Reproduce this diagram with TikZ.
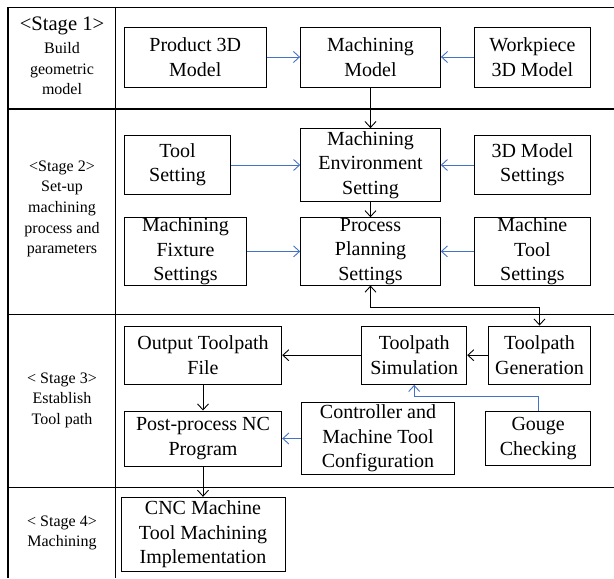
\documentclass[tikz,border=0pt]{standalone}
\usepackage{fontspec}
\setmainfont{Liberation Serif}
\usepackage{xcolor}
\usepackage{tikz}
\usetikzlibrary{
  arrows.meta
}
\definecolor{linkblue}{RGB}{68,114,196}

\begin{document}
\begin{tikzpicture}[x=0.5pt, y=-0.5pt,
    >={Straight Barb[length=3pt,width=5.5pt]},
    box/.style={draw, line width=0.5pt, inner sep=0pt, align=center,
      font=\fontsize{10}{12.2}\selectfont},
    stagetext/.style={align=center, font=\fontsize{8}{10.3}\selectfont},
    blackline/.style={->, line width=0.45pt},
    blueline/.style={->, line width=0.45pt, linkblue},
    frame/.style={line width=0.75pt}]
      \useasboundingbox (0,0) rectangle (614,578);

      % Table frame
      \draw[frame] (8,7.3) -- (614,7.3);
      \draw[frame] (8,7.3) -- (8,578);
      \draw[frame] (115.7,7.3) -- (115.7,578);
      \foreach \rowy in {109.2,314.5,487.5}
        \draw[frame] (8,\rowy) -- (614,\rowy);

      % Stage labels
      \node[stagetext] (stageone) at (62,56) {{\fontsize{10.3}{12}\selectfont <Stage 1>}\\[1pt]Build\\geometric\\model};
      \node[stagetext] (stagetwo) at (62,209) {<Stage 2>\\Set-up\\machining\\process and\\parameters};
      \node[stagetext] (stagethree) at (62,400) {< Stage 3>\\Establish\\Tool path};
      \node[stagetext] (stagefour) at (62,533) {< Stage 4>\\Machining};

      % Stage 1
      \node[box, minimum width=70.75pt, minimum height=30pt] (prodmodel) at (195.25,57) {Product 3D\\Model};
      \node[box, minimum width=69.9pt, minimum height=30pt] (machmodel) at (370.5,57) {Machining\\Model};
      \node[box, minimum width=58.35pt, minimum height=30pt] (workmodel) at (532.35,57) {Workpiece\\3D Model};
      \draw[blueline] (prodmodel) -- (machmodel);
      \draw[blueline] (workmodel) -- (machmodel);

      % Stage 2
      \node[box, minimum width=53.2pt, minimum height=29.15pt] (toolset) at (177.5,165) {Tool\\Setting};
      \node[box, minimum width=69.8pt, minimum height=36.35pt] (envset) at (370.5,165) {Machining\\Environment\\Setting};
      \node[box, minimum width=58.35pt, minimum height=29.15pt] (modelset) at (532.35,165) {3D Model\\Settings};
      \node[box, minimum width=61.2pt, minimum height=33.65pt] (fixset) at (185.5,251.4) {Machining\\Fixture\\Settings};
      \node[box, minimum width=69.8pt, minimum height=33.65pt] (planset) at (370.5,251.4) {Process\\Planning\\Settings};
      \node[box, minimum width=58.35pt, minimum height=33.65pt] (mtoolset) at (532.35,251.4) {Machine\\Tool\\Settings};
      \draw[blackline] (machmodel) -- (envset);
      \draw[blueline] (toolset) -- (envset);
      \draw[blueline] (modelset) -- (envset);
      \draw[blackline] (envset) -- (planset);
      \draw[blueline] (fixset) -- (planset);
      \draw[blueline] (mtoolset) -- (planset);

      % Stage 3
      \node[box, minimum width=78.7pt, minimum height=29.15pt] (outfile) at (203,355.2) {Output Toolpath\\File};
      \node[box, minimum width=52.5pt, minimum height=29.15pt] (pathsim) at (414.2,355.2) {Toolpath\\Simulation};
      \node[box, minimum width=51.2pt, minimum height=29.15pt] (pathgen) at (539.5,355.2) {Toolpath\\Generation};
      \node[box, minimum width=78.7pt, minimum height=27.5pt] (postproc) at (203,438.5) {Post-process NC\\Program};
      \node[box, minimum width=76.3pt, minimum height=36.35pt] (ctrlconf) at (378,438.5) {Controller and\\Machine Tool\\Configuration};
      \node[box, minimum width=52.5pt, minimum height=27pt] (gouge) at (538.2,438.7) {Gouge\\Checking};
      \draw[blackline, <->] (planset.south) -- ++(0,21.7) -| (pathgen.north);
      \draw[blackline] (pathgen) -- (pathsim);
      \draw[blackline] (pathsim) -- (outfile);
      \draw[blackline] (outfile) -- (postproc);
      \draw[blueline] (ctrlconf) -- (postproc);
      \draw[blueline] (gouge.north) -- ++(0,-15) -| (pathsim.south);

      % Stage 4
      \node[box, minimum width=82pt, minimum height=37.2pt] (cncimpl) at (203,534.5) {CNC Machine\\Tool Machining\\Implementation};
      \draw[blackline] (postproc) -- (cncimpl);
    \end{tikzpicture}
\end{document}
